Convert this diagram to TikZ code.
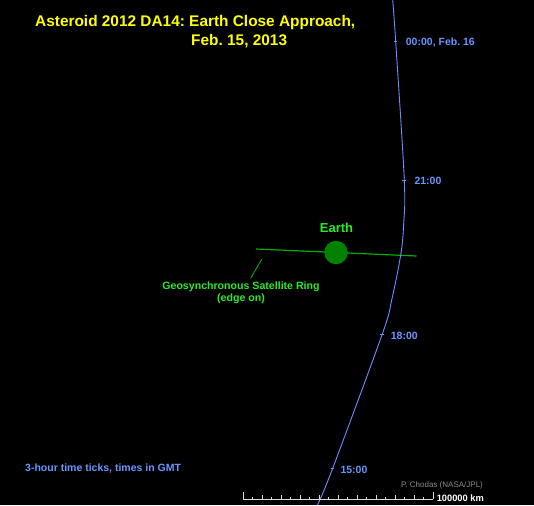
\documentclass[tikz,border=0pt]{standalone}
\usepackage{fontspec}
\setmainfont{Liberation Sans}
\usetikzlibrary{calc}
\frenchspacing
\definecolor{bg}{RGB}{0,0,0}
\definecolor{orbit}{RGB}{112,140,255}
\definecolor{tlabel}{RGB}{105,150,255}
\definecolor{ttl}{RGB}{255,255,0}
\definecolor{gtext}{RGB}{40,235,40}
\definecolor{earthc}{RGB}{0,130,0}
\definecolor{ringc}{RGB}{0,175,0}
\definecolor{credit}{RGB}{140,140,140}
\tikzset{
  lbl/.style={anchor=base west,inner sep=0pt,font=\bfseries\fontsize{10.5}{12}\selectfont,text=tlabel},
  ttlstyle/.style={anchor=base west,inner sep=0pt,font=\bfseries\fontsize{15.4}{18}\selectfont,text=ttl},
  gstyle/.style={anchor=base,inner sep=0pt,font=\bfseries\fontsize{10.6}{12}\selectfont,text=gtext},
  tickmark/.style={orbit,line width=0.8pt},
}
\begin{document}
\begin{tikzpicture}[x=1pt,y=-1pt]
\fill[bg] (0,0) rectangle (534,505);
\useasboundingbox (0,0) rectangle (534,505);
% title
\node[ttlstyle] (t1) at (35,26.7) {Asteroid 2012 DA14: Earth Close Approach,};
\node[ttlstyle] (t2) at (191,45.7) {Feb. 15, 2013};
% geosynchronous ring
\coordinate (rl) at (256,249);
\coordinate (rr) at (416.5,256);
\draw[ringc,line width=1.2pt] (rl) -- (rr);
% Earth
\node[circle,fill=earthc,minimum size=23.5pt,inner sep=0pt] (earth) at (336,252.5) {};
\node[gstyle,font=\bfseries\fontsize{13}{15}\selectfont] (elbl) at (336.5,232.3) {Earth};
% orbit
\draw[orbit,line width=0.9pt] plot[smooth,tension=0.55] coordinates {(392.7,0) (395.7,41.7) (404.3,180) (403.6,225) (400.7,255) (391.7,300) (382.3,334) (332.7,468.3) (317.5,505)};
% time ticks
\coordinate (c00) at (395.7,41.7);
\coordinate (c21) at (404.3,180);
\coordinate (c18) at (382.3,334);
\coordinate (c15) at (332.7,468.3);
\foreach \c in {c00,c21,c18,c15}{\draw[tickmark] ([xshift=-2pt]\c) -- ([xshift=1.5pt]\c);}
\node[lbl] (l00) at (405.7,45.5) {00:00, Feb. 16};
\node[lbl] (l21) at (414.3,184) {21:00};
\node[lbl] (l18) at (390.7,339.3) {18:00};
\node[lbl] (l15) at (340.3,473.5) {15:00};
% ring label
\node[gstyle] (g1) at (241,289.5) {Geosynchronous Satellite Ring};
\node[gstyle] (g2) at (241,301.5) {(edge on)};
\coordinate (gp1) at (261.7,259.3);
\coordinate (gp2) at (250.7,278.3);
\draw[ringc,line width=0.9pt] (gp1) -- (gp2);
% legend
\node[lbl] (legend) at (25,471) {3-hour time ticks, times in GMT};
\node[anchor=base west,inner sep=0pt,font=\fontsize{8}{9}\selectfont,text=credit] (cred) at (401,487) {P. Chodas (NASA/JPL)};
% scale bar
\coordinate (sb0) at (243,499);
\coordinate (sb1) at (433,499);
\draw[white!85!black,line width=0.7pt] (sb0) -- (sb1);
\foreach \i in {0,...,20}{
  \pgfmathsetmacro{\h}{ifthenelse(mod(\i,2)==0,4.5,2)}
  \draw[white!85!black,line width=0.7pt] ($(sb0)+(\i*9.5,0)$) -- ++(0,-\h);
}
\draw[white!85!black,line width=0.7pt] (sb0) -- ++(0,-7);
\draw[white!85!black,line width=0.7pt] (sb1) -- ++(0,-7);
\node[anchor=base west,inner sep=0pt,font=\bfseries\fontsize{9.3}{11}\selectfont,text=white] (sblbl) at (436.6,501) {100000 km};
\end{tikzpicture}
\end{document}
